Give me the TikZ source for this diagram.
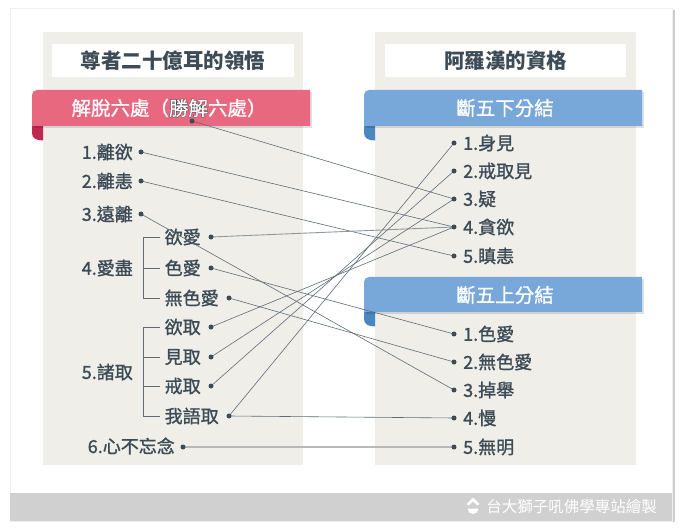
\documentclass[tikz,border=0pt]{standalone}
\usepackage{fontspec}
\setmainfont{Noto Sans CJK TC}
\newfontfamily\itemfont{Noto Sans CJK TC}[FakeBold=1.2]
\newfontfamily\ribfont{Noto Sans CJK TC}[FakeBold=0.8]
\newfontfamily\ribfontfat{Noto Sans CJK TC}[FakeBold=5]
\definecolor{panel}{HTML}{F0EEE9}
\definecolor{txt}{HTML}{3C4B56}
\definecolor{lnk}{HTML}{5F6C75}
\definecolor{pinkr}{HTML}{E8687F}
\definecolor{pinkfold}{HTML}{C2284F}
\definecolor{bluer}{HTML}{78A7D9}
\definecolor{bluefold}{HTML}{4A86C0}
\definecolor{footer}{HTML}{D0D0D0}
\definecolor{outc}{HTML}{34424C}
\newcommand{\outl}[1]{\rlap{{\ribfontfat\color{outc}#1}}#1}
\pgfdeclarelayer{front}
\pgfsetlayers{main,front}
\begin{document}
\begin{tikzpicture}[x=1pt,y=-1pt,
  item/.style={font=\itemfont\fontsize{18}{21}\selectfont, text=txt, inner sep=0pt},
  dotn/.style={circle, fill=txt, inner sep=0pt, minimum size=5pt},
  link/.style={draw=lnk, line width=0.6pt},
  linklight/.style={draw=lnk!70, line width=0.9pt},
  linkthick/.style={draw=black!28, line width=1.8pt},
  brk/.style={draw=lnk, line width=0.8pt},
  titlebox/.style={fill=white, inner sep=0pt, text=txt, font=\fontsize{20.5}{24}\selectfont\bfseries},
  ribtext/.style={text=white, inner sep=0pt, font=\ribfont\fontsize{19.5}{22}\selectfont}]
\useasboundingbox (0,0) rectangle (680,529);
\fill[white] (0,0) rectangle (680,529);
% card
\fill[black!20] (672,10) rectangle (675,522);
\filldraw[fill=white, draw=black!6] (10,8) rectangle (672,521);
\fill[footer] (10,493) rectangle (672,521);
% panels
\fill[panel] (43,32) rectangle (303,465);
\fill[panel] (375,32) rectangle (636,465);
% titles
\node[titlebox, minimum width=242pt, minimum height=33pt] (tL) at (173,60.5) {尊者二十億耳的領悟};
\node[titlebox, minimum width=241pt, minimum height=33pt] (tR) at (505.5,60.5) {阿羅漢的資格};
% pink ribbon
\fill[pinkfold] (32,124) -- (32,133) .. controls (32,138) and (36,140.5) .. (43,140.5) -- (43,124) -- cycle;
\fill[black, opacity=0.12] (34,92) rectangle (312,128.5);
\fill[pinkr] (32,126) -- (32,95) arc[start angle=180, end angle=270, radius=5] -- (310,90) -- (310,126) -- cycle;
\node[ribtext] (rbL) at (169,108) {解脫六處（\outl{勝解}六處）};
% blue ribbon 1
\fill[bluefold] (364,124) -- (364,133) .. controls (364,138) and (368,140.5) .. (375,140.5) -- (375,124) -- cycle;
\fill[black, opacity=0.12] (366,92) rectangle (644,128.5);
\fill[bluer] (364,126) -- (364,95) arc[start angle=180, end angle=270, radius=5] -- (642,90) -- (642,126) -- cycle;
\node[ribtext] (rbR1) at (505,108) {斷五下分結};
% blue ribbon 2
\fill[bluefold] (364,310) -- (364,319) .. controls (364,324) and (368,326.5) .. (375,326.5) -- (375,310) -- cycle;
\fill[black, opacity=0.12] (366,279) rectangle (644,314.5);
\fill[bluer] (364,312) -- (364,282) arc[start angle=180, end angle=270, radius=5] -- (642,277) -- (642,312) -- cycle;
\node[ribtext] (rbR2) at (505,295) {斷五上分結};
% footer credit
\fill[white] (466.5,504) -- (473,497.5) -- (479.5,504) -- (477.5,505.5) -- (473,501.5) -- (468.5,505.5) -- cycle;
\fill[white] (467.5,508.5) -- (478.5,508.5) arc[start angle=0, end angle=180, radius=5.5] -- cycle;
\node[anchor=east, text=white, inner sep=0pt, font=\fontsize{15.5}{18}\selectfont] (credit) at (657,507) {台大獅子吼佛學專站繪製};
% left items
\node[item, anchor=east] (t1) at (133,152) {1.離欲};
\node[item, anchor=east] (t2) at (133,181) {2.離恚};
\node[item, anchor=east] (t3) at (133,214) {3.遠離};
\node[item, anchor=east] (t4) at (133,268) {4.愛盡};
\node[item, anchor=west] (tya) at (164.5,237) {欲愛};
\node[item, anchor=west] (tsa) at (164.5,268) {色愛};
\node[item, anchor=west] (twsa) at (164.5,298) {無色愛};
\node[item, anchor=east] (t5) at (133,372) {5.諸取};
\node[item, anchor=west] (tyq) at (164.5,327) {欲取};
\node[item, anchor=west] (tjq) at (164.5,357) {見取};
\node[item, anchor=west] (tjieq) at (164.5,386) {戒取};
\node[item, anchor=west] (twq) at (164.5,416) {我語取};
\node[item, anchor=east] (t6) at (175,446) {6.心不忘念};
% brackets
\draw[brk] (160,237) -- (143,237) -- (143,298) -- (160,298) (143,268) -- (160,268);
\draw[brk] (160,327) -- (143,327) -- (143,416) -- (160,416) (143,357) -- (160,357) (143,386) -- (160,386);
% right items
\node[item, anchor=west] (s1) at (463,143) {1.身見};
\node[item, anchor=west] (s2) at (463,171) {2.戒取見};
\node[item, anchor=west] (s3) at (463,199) {3.疑};
\node[item, anchor=west] (s4) at (463,227) {4.貪欲};
\node[item, anchor=west] (s5) at (463,256) {5.瞋恚};
\node[item, anchor=west] (h1) at (463,334) {1.色愛};
\node[item, anchor=west] (h2) at (463,362) {2.無色愛};
\node[item, anchor=west] (h3) at (463,390) {3.掉舉};
\node[item, anchor=west] (h4) at (463,418) {4.慢};
\node[item, anchor=west] (h5) at (463,447) {5.無明};
% dots
\begin{pgfonlayer}{front}
\node[dotn] (sj) at (192,121) {};
\node[dotn] (d1) at (141,152) {};
\node[dotn] (d2) at (141,181) {};
\node[dotn] (d3) at (141,214) {};
\node[dotn] (dya) at (211,237) {};
\node[dotn] (dsa) at (211,268) {};
\node[dotn] (dwsa) at (229,298) {};
\node[dotn] (dyq) at (211,327) {};
\node[dotn] (djq) at (211,357) {};
\node[dotn] (djieq) at (211,386) {};
\node[dotn] (dwq) at (229,416) {};
\node[dotn] (d6) at (183,447) {};
\node[dotn] (r1) at (454,143) {};
\node[dotn] (r2) at (454,171) {};
\node[dotn] (r3) at (454,199) {};
\node[dotn] (r4) at (454,227) {};
\node[dotn] (r5) at (454,256) {};
\node[dotn] (u1) at (454,334) {};
\node[dotn] (u2) at (454,362) {};
\node[dotn] (u3) at (454,390) {};
\node[dotn] (u4) at (454,418) {};
\node[dotn] (u5) at (454,447) {};
\end{pgfonlayer}
% connectors
\draw[link] (sj.center) -- (r3.center);
\draw[link] (d1.center) -- (r4.center);
\draw[link] (d2.center) -- (r5.center);
\draw[link] (d3.center) -- (u3.center);
\draw[linklight] (dya.center) -- (r4.center);
\draw[link] (dsa.center) -- (u1.center);
\draw[link] (dwsa.center) -- (u2.center);
\draw[link] (dyq.center) -- (r4.center);
\draw[link] (djq.center) -- (r3.center);
\draw[link] (djieq.center) -- (r2.center);
\draw[link] (dwq.center) -- (r1.center);
\draw[link] (dwq.center) -- (u4.center);
\draw[linkthick] (d6.center) -- (u5.center);
\end{tikzpicture}
\end{document}
